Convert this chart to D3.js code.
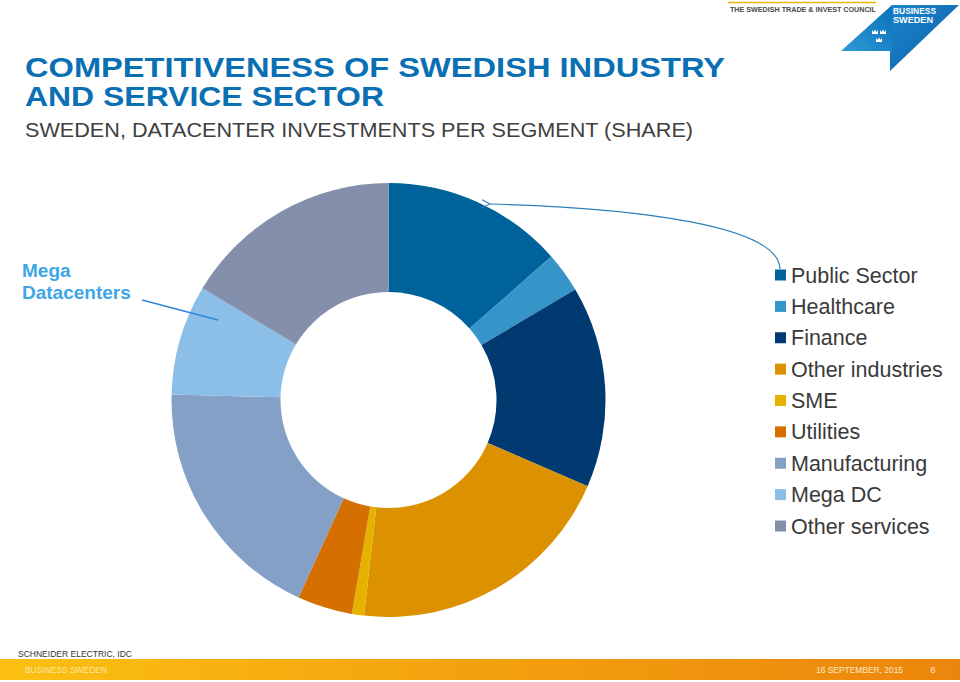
<!DOCTYPE html>
<html>
<head>
<meta charset="utf-8">
<script src="https://cdn.jsdelivr.net/npm/d3@7/dist/d3.min.js"></script>
<style>
  html, body { margin: 0; padding: 0; background: #fff; }
  svg { display: block; font-family: "Liberation Sans", Arial, sans-serif; }
</style>
</head>
<body>
<svg id="chart" width="960" height="682"></svg>
<script>
// ---- data ----
const categories = ["Public Sector", "Healthcare", "Finance", "Other industries", "SME", "Utilities", "Manufacturing", "Mega DC", "Other services"];
const shares = [13.5, 3.0, 15.0, 20.3, 0.9, 4.1, 18.6, 8.2, 16.4];
const colors = ["#00629b", "#3595c8", "#003a70", "#dc9200", "#e5b200", "#d46f00", "#84a0c6", "#8bbfe7", "#8490ab"];

const titleLines = ["COMPETITIVENESS OF SWEDISH INDUSTRY", "AND SERVICE SECTOR"];
const subtitle = "SWEDEN, DATACENTER INVESTMENTS PER SEGMENT (SHARE)";
const annotationLines = ["Mega", "Datacenters"];
const sourceText = "SCHNEIDER ELECTRIC, IDC";
const footerLeft = "BUSINESS SWEDEN";
const footerDate = "16 SEPTEMBER, 2015";
const footerPage = "8";

const svg = d3.select("#chart");
const defs = svg.append("defs");

// ---- title ----
const title = svg.append("g");
title.append("text").attr("x", 25).attr("y", 77)
  .attr("font-size", 28.5).attr("font-weight", "bold").attr("fill", "#0a6fb3")
  .attr("textLength", 700).attr("lengthAdjust", "spacingAndGlyphs")
  .text(titleLines[0]);
title.append("text").attr("x", 25).attr("y", 106)
  .attr("font-size", 28.5).attr("font-weight", "bold").attr("fill", "#0a6fb3")
  .attr("textLength", 359).attr("lengthAdjust", "spacingAndGlyphs")
  .text(titleLines[1]);
title.append("text").attr("x", 25).attr("y", 137)
  .attr("font-size", 21).attr("fill", "#404040")
  .attr("textLength", 668).attr("lengthAdjust", "spacingAndGlyphs")
  .text(subtitle);

// ---- logo ----
const logo = svg.append("g");
logo.append("line").attr("x1", 728).attr("x2", 876).attr("y1", 2.5).attr("y2", 2.5)
  .attr("stroke", "#f0b400").attr("stroke-width", 1.5);
logo.append("text").attr("x", 730).attr("y", 11.5).attr("font-size", 7.5).attr("font-weight", "bold")
  .attr("fill", "#4a4a4a").attr("textLength", 146).attr("lengthAdjust", "spacingAndGlyphs")
  .text("THE SWEDISH TRADE & INVEST COUNCIL");
const lg1 = defs.append("linearGradient").attr("id", "lg1").attr("x1", "0").attr("y1", "1").attr("x2", "1").attr("y2", "0");
lg1.append("stop").attr("offset", "0").attr("stop-color", "#2f9ad6");
lg1.append("stop").attr("offset", "1").attr("stop-color", "#0a70b8");
const lg2 = defs.append("linearGradient").attr("id", "lg2").attr("x1", "0").attr("y1", "0").attr("x2", "1").attr("y2", "1");
lg2.append("stop").attr("offset", "0").attr("stop-color", "#1b86cc");
lg2.append("stop").attr("offset", "1").attr("stop-color", "#0c5fa6");
logo.append("path").attr("d", "M841,51 L892,5 L892,51 Z").attr("fill", "url(#lg1)");
logo.append("path").attr("d", "M892,5 L959,5 L890,71 L890,51 L892,51 Z").attr("fill", "url(#lg2)");
logo.append("text").attr("x", 893).attr("y", 13.5).attr("font-size", 8.5).attr("font-weight", "bold")
  .attr("fill", "#fff").attr("textLength", 43).attr("lengthAdjust", "spacingAndGlyphs").text("BUSINESS");
logo.append("text").attr("x", 893).attr("y", 22.5).attr("font-size", 8.5).attr("font-weight", "bold")
  .attr("fill", "#fff").attr("textLength", 40).attr("lengthAdjust", "spacingAndGlyphs").text("SWEDEN");
const crown = (cx, cy) => `M${cx-3},${cy+2} L${cx-3},${cy-2} L${cx-1.5},${cy} L${cx},${cy-2.5} L${cx+1.5},${cy} L${cx+3},${cy-2} L${cx+3},${cy+2} Z`;
[[875, 32], [883, 32], [879, 40]].forEach(([x, y]) =>
  logo.append("path").attr("d", crown(x, y)).attr("fill", "#fff"));

// ---- donut ----
const cx = 388.5, cy = 400, rOuter = 217, rInner = 108;
const pie = d3.pie().sort(null).value(d => d.v).startAngle(0).endAngle(2 * Math.PI);
const arc = d3.arc().innerRadius(rInner).outerRadius(rOuter);
const data = categories.map((c, i) => ({ c, v: shares[i] }));
const color = d3.scaleOrdinal().domain(categories).range(colors);

svg.append("g").attr("transform", `translate(${cx},${cy})`)
  .selectAll("path").data(pie(data)).join("path")
  .attr("d", arc).attr("fill", d => color(d.data.c));

// ---- legend ----
const legendY = d3.scalePoint().domain(categories).range([275, 526]);
const legend = svg.append("g");
const items = legend.selectAll("g").data(categories).join("g")
  .attr("transform", d => `translate(775,${legendY(d)})`);
items.append("rect").attr("x", 0).attr("y", -5.5).attr("width", 11).attr("height", 11)
  .attr("fill", d => color(d));
items.append("text").attr("x", 16).attr("y", 7.5).attr("font-size", 21.5).attr("fill", "#3a3a3a")
  .text(d => d);

// ---- arrow from legend to Public Sector slice ----
const mk = defs.append("marker").attr("id", "arrow").attr("viewBox", "0 0 10 10")
  .attr("refX", 1).attr("refY", 5).attr("markerWidth", 10).attr("markerHeight", 10)
  .attr("markerUnits", "userSpaceOnUse").attr("orient", "auto");
mk.append("path").attr("d", "M9,1 L1,5 L9,9").attr("fill", "none").attr("stroke", "#2f7fb8").attr("stroke-width", 1);
svg.append("path").attr("d", "M780,269 C779,226 640,208 490,204")
  .attr("fill", "none").attr("stroke", "#2f7fb8").attr("stroke-width", 1.2)
  .attr("marker-end", "url(#arrow)");

// ---- Mega Datacenters annotation ----
const ann = svg.append("g");
annotationLines.forEach((t, i) => {
  ann.append("text").attr("x", 22).attr("y", 277 + i * 22).attr("font-size", 19)
    .attr("font-weight", "bold").attr("fill", "#3ea6e6").text(t);
});
ann.append("line").attr("x1", 142).attr("y1", 300).attr("x2", 218).attr("y2", 320)
  .attr("stroke", "#2f86d8").attr("stroke-width", 1.3);

// ---- footer ----
svg.append("text").attr("x", 18).attr("y", 657).attr("font-size", 9.5).attr("fill", "#333")
  .attr("textLength", 114).attr("lengthAdjust", "spacingAndGlyphs").text(sourceText);
const fg = defs.append("linearGradient").attr("id", "fg");
fg.append("stop").attr("offset", "0").attr("stop-color", "#fbc012");
fg.append("stop").attr("offset", "0.5").attr("stop-color", "#f3a10e");
fg.append("stop").attr("offset", "1").attr("stop-color", "#ec850c");
svg.append("rect").attr("x", 0).attr("y", 659).attr("width", 960).attr("height", 21).attr("fill", "url(#fg)");
svg.append("text").attr("x", 25).attr("y", 673).attr("font-size", 9.5).attr("fill", "#fde7a0")
  .attr("textLength", 82).attr("lengthAdjust", "spacingAndGlyphs").text(footerLeft);
svg.append("text").attr("x", 903).attr("y", 673).attr("font-size", 9.5).attr("fill", "#fde9c8")
  .attr("text-anchor", "end").attr("textLength", 87).attr("lengthAdjust", "spacingAndGlyphs").text(footerDate);
svg.append("text").attr("x", 933).attr("y", 673).attr("font-size", 9.5).attr("fill", "#fde9c8")
  .attr("text-anchor", "middle").text(footerPage);
</script>
</body>
</html>
